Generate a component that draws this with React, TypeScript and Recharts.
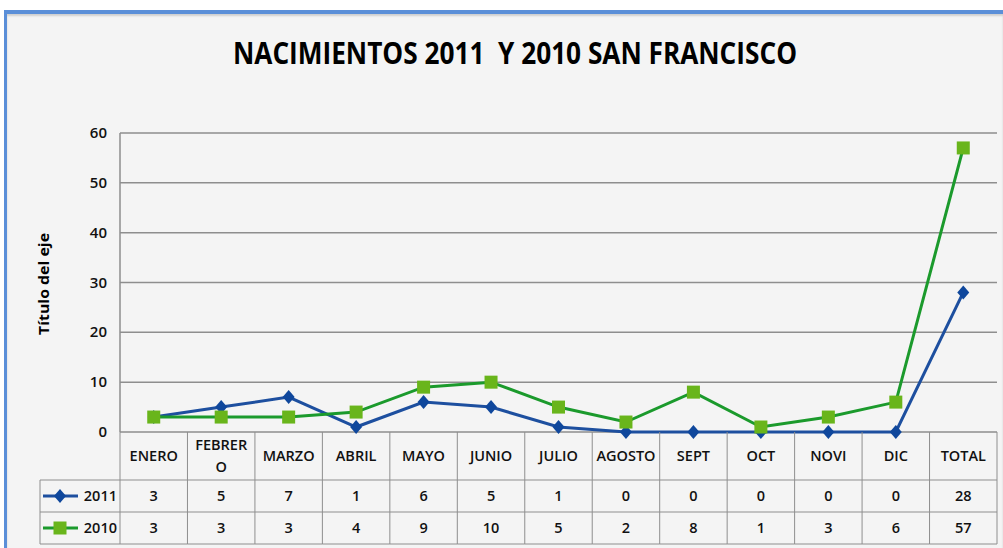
import React from "react";
import { LineChart, Line, XAxis, YAxis, CartesianGrid, Customized } from "recharts";

const months = ["ENERO", "FEBRERO", "MARZO", "ABRIL", "MAYO", "JUNIO", "JULIO", "AGOSTO", "SEPT", "OCT", "NOVI", "DIC", "TOTAL"];
const births2011 = [3, 5, 7, 1, 6, 5, 1, 0, 0, 0, 0, 0, 28];
const births2010 = [3, 3, 3, 4, 9, 10, 5, 2, 8, 1, 3, 6, 57];
const yTicks = [0, 10, 20, 30, 40, 50, 60];

const data = months.map((m, i) => ({ month: m, y2011: births2011[i], y2010: births2010[i] }));

const W = 1003;
const H = 548;
const PLOT_LEFT = 120;
const PLOT_RIGHT = 997;
const PLOT_TOP = 133;
const PLOT_BOTTOM = 432;
const HEADER_H = 48;
const ROW_H = 32;
const LEGEND_LEFT = 40;
const Y_AXIS_W = 60;

const BLUE = "#1d4f9f";
const BLUE_MARK = "#0f479c";
const GREEN = "#1b9a2c";
const GREEN_MARK = "#69b51b";
const GRID = "#8e8e8e";
const FONT = "'Open Sans', sans-serif";

// Excel wrapped this header in the data table
const headerLines = (m: string) => (m === "FEBRERO" ? ["FEBRER", "O"] : [m]);

function Diamond({ cx, cy }: { cx: number; cy: number }) {
  return <polygon points={`${cx},${cy - 7} ${cx + 6},${cy} ${cx},${cy + 7} ${cx - 6},${cy}`} fill={BLUE_MARK} />;
}

function Square({ cx, cy }: { cx: number; cy: number }) {
  return <rect x={cx - 6.5} y={cy - 6.5} width={13} height={13} fill={GREEN_MARK} />;
}

function TableTick(props: any) {
  const { x, index, payload } = props;
  const bw = (PLOT_RIGHT - PLOT_LEFT) / months.length;
  const left = x - bw / 2;
  const right = x + bw / 2;
  const r1 = PLOT_BOTTOM + HEADER_H;
  const r2 = r1 + ROW_H;
  const r3 = r2 + ROW_H;
  const lines = headerLines(payload.value);
  const txt = { fontFamily: FONT, fontSize: 14.5, fontWeight: 600, fill: "#111", textAnchor: "middle" as const };
  return (
    <g>
      {index === 0 && (
        <g>
          <line x1={left} y1={PLOT_BOTTOM} x2={left} y2={r3} stroke={GRID} />
          <line x1={LEGEND_LEFT} y1={r1} x2={left} y2={r1} stroke={GRID} />
          <line x1={LEGEND_LEFT} y1={r2} x2={left} y2={r2} stroke={GRID} />
          <line x1={LEGEND_LEFT} y1={r3} x2={left} y2={r3} stroke={GRID} />
          <line x1={LEGEND_LEFT} y1={r1} x2={LEGEND_LEFT} y2={r3} stroke={GRID} />
          <line x1={43} y1={r1 + ROW_H / 2} x2={78} y2={r1 + ROW_H / 2} stroke={BLUE} strokeWidth={3} />
          <Diamond cx={60} cy={r1 + ROW_H / 2} />
          <text {...txt} textAnchor="end" x={117} y={r1 + ROW_H / 2 + 5}>2011</text>
          <line x1={43} y1={r2 + ROW_H / 2} x2={78} y2={r2 + ROW_H / 2} stroke={GREEN} strokeWidth={3} />
          <Square cx={60} cy={r2 + ROW_H / 2} />
          <text {...txt} textAnchor="end" x={117} y={r2 + ROW_H / 2 + 5}>2010</text>
        </g>
      )}
      <line x1={right} y1={PLOT_BOTTOM} x2={right} y2={r3} stroke={GRID} />
      <line x1={left} y1={r1} x2={right} y2={r1} stroke={GRID} />
      <line x1={left} y1={r2} x2={right} y2={r2} stroke={GRID} />
      <line x1={left} y1={r3} x2={right} y2={r3} stroke={GRID} />
      {lines.length === 1 ? (
        <text {...txt} x={x} y={PLOT_BOTTOM + HEADER_H / 2 + 5}>{lines[0]}</text>
      ) : (
        lines.map((l, i) => (
          <text key={i} {...txt} x={x} y={PLOT_BOTTOM + 18 + i * 22}>{l}</text>
        ))
      )}
      <text {...txt} x={x} y={r1 + ROW_H / 2 + 5}>{births2011[index]}</text>
      <text {...txt} x={x} y={r2 + ROW_H / 2 + 5}>{births2010[index]}</text>
    </g>
  );
}

function YTick(props: any) {
  const { y, payload } = props;
  return (
    <text x={107} y={y + 5} textAnchor="end" fontFamily={FONT} fontSize={15} fontWeight={600} fill="#111">
      {payload.value}
    </text>
  );
}

function Titles() {
  return (
    <g>
      <text x={515} y={64} textAnchor="middle" fontFamily={FONT} fontSize={30} fontWeight={700} fill="#000"
        textLength={564} lengthAdjust="spacingAndGlyphs" style={{ whiteSpace: "pre" }}>
        {"NACIMIENTOS 2011  Y 2010 SAN FRANCISCO"}
      </text>
      <text x={49} y={284} textAnchor="middle" transform="rotate(-90 49 284)" fontFamily={FONT} fontSize={14.5}
        fontWeight={700} fill="#000" textLength={102} lengthAdjust="spacingAndGlyphs">
        Título del eje
      </text>
    </g>
  );
}

export default function App() {
  return (
    <div style={{ position: "absolute", left: 0, top: 0, width: W, height: H, background: "#fff", overflow: "hidden" }}>
      <div
        style={{
          position: "absolute",
          left: 4,
          top: 10,
          width: W - 4,
          height: H - 10,
          boxSizing: "border-box",
          background: "#f4f4f4",
          borderTop: "4px solid #5b8fd8",
          borderLeft: "3px solid #5b8fd8",
          boxShadow: "inset 0 2px 2px rgba(0,0,0,0.15)",
        }}
      />
      <div style={{ position: "absolute", left: 0, top: 0 }}>
        <LineChart
          width={W}
          height={H}
          data={data}
          margin={{ top: PLOT_TOP, right: W - PLOT_RIGHT, bottom: 0, left: PLOT_LEFT - Y_AXIS_W }}
        >
          <CartesianGrid horizontal vertical={false} stroke={GRID} strokeWidth={1.5} />
          <XAxis
            dataKey="month"
            scale="band"
            interval={0}
            height={H - PLOT_BOTTOM}
            axisLine={false}
            tickLine={false}
            tick={<TableTick />}
          />
          <YAxis
            width={Y_AXIS_W}
            domain={[0, 60]}
            ticks={yTicks}
            interval={0}
            axisLine={{ stroke: GRID, strokeWidth: 1.5 }}
            tickLine={false}
            tick={<YTick />}
          />
          <Customized component={<Titles />} />
          <Line
            dataKey="y2011"
            stroke={BLUE}
            strokeWidth={3}
            isAnimationActive={false}
            dot={(p: any) => <Diamond key={p.index} cx={p.cx} cy={p.cy} />}
            activeDot={false}
          />
          <Line
            dataKey="y2010"
            stroke={GREEN}
            strokeWidth={3}
            isAnimationActive={false}
            dot={(p: any) => <Square key={p.index} cx={p.cx} cy={p.cy} />}
            activeDot={false}
          />
        </LineChart>
      </div>
    </div>
  );
}
